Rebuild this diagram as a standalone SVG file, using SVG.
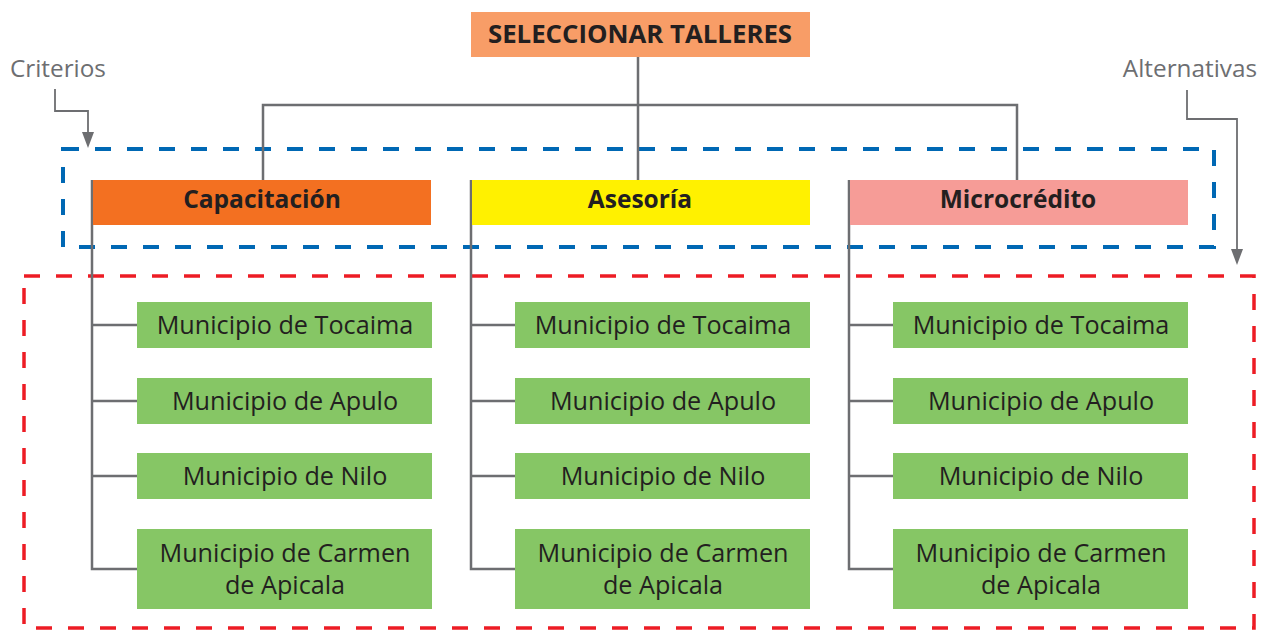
<svg xmlns="http://www.w3.org/2000/svg" width="1267" height="630" viewBox="0 0 1267 630">
<style>
.ln{fill:none;stroke:#6D6E71;stroke-width:2.5}
.lbl{font-family:"Open Sans","Noto Sans",sans-serif;font-size:24.3px;fill:#6D6E71}
.top{font-family:"Open Sans","Noto Sans",sans-serif;font-size:25.8px;font-weight:bold;fill:#231F20;text-anchor:middle}
.cat{font-family:"Open Sans","Noto Sans",sans-serif;font-size:24.5px;font-weight:bold;fill:#231F20;text-anchor:middle}
.mun{font-family:"Open Sans","Noto Sans",sans-serif;font-size:25.2px;fill:#231F20;text-anchor:middle}
.g{fill:#86C665}
</style>
<g id="frames">
<rect x="63" y="149" width="1151" height="98" fill="none" stroke="#0068B4" stroke-width="4" stroke-dasharray="16 16"/>
<rect x="24" y="276" width="1230" height="352" fill="none" stroke="#ED1C24" stroke-width="3.5" stroke-dasharray="16 16"/>
</g>
<g id="connectors">
<path class="ln" d="M638,57 V180 M263,180 V105 H1017 V180"/>
<path class="ln" d="M92,180 V569 H137 M92,325 H137 M92,401 H137 M92,476 H137"/>
<path class="ln" d="M471,180 V569 H515 M471,325 H515 M471,401 H515 M471,476 H515"/>
<path class="ln" d="M849,180 V569 H893 M849,325 H893 M849,401 H893 M849,476 H893"/>
<path d="M55,89 V111 H88 V132" fill="none" stroke="#6D6E71" stroke-width="1.8"/>
<path d="M82,132 L94,132 L88,148 Z" fill="#6D6E71"/>
<path d="M1187,90 V119 H1237 V249" fill="none" stroke="#6D6E71" stroke-width="1.8"/>
<path d="M1231,249 L1243,249 L1237,265 Z" fill="#6D6E71"/>
</g>
<g id="label-criterios"><text class="lbl" x="10" y="77">Criterios</text></g>
<g id="label-alternativas"><text class="lbl" x="1257" y="77" text-anchor="end">Alternativas</text></g>
<g id="root">
<rect x="471" y="12" width="339" height="45" fill="#F89D67"/>
<text class="top" x="640" y="43">SELECCIONAR TALLERES</text>
</g>
<g id="cat-capacitacion">
<rect x="93" y="180" width="338" height="45" fill="#F37021"/>
<text class="cat" x="262" y="208">Capacitación</text>
</g>
<g id="cat-asesoria">
<rect x="472" y="180" width="338" height="45" fill="#FFF100"/>
<text class="cat" x="640" y="208">Asesoría</text>
</g>
<g id="cat-microcredito">
<rect x="850" y="180" width="338" height="45" fill="#F69C97"/>
<text class="cat" x="1018" y="208">Microcrédito</text>
</g>
<g id="c1-tocaima"><rect class="g" x="137" y="302" width="295" height="46"/><text class="mun" x="285" y="334">Municipio de Tocaima</text></g>
<g id="c1-apulo"><rect class="g" x="137" y="378" width="295" height="46"/><text class="mun" x="285" y="410">Municipio de Apulo</text></g>
<g id="c1-nilo"><rect class="g" x="137" y="453" width="295" height="46"/><text class="mun" x="285" y="485">Municipio de Nilo</text></g>
<g id="c1-carmen"><rect class="g" x="137" y="529" width="295" height="80"/><text class="mun" x="285" y="562">Municipio de Carmen</text><text class="mun" x="285" y="594">de Apicala</text></g>
<g id="c2-tocaima"><rect class="g" x="515" y="302" width="295" height="46"/><text class="mun" x="663" y="334">Municipio de Tocaima</text></g>
<g id="c2-apulo"><rect class="g" x="515" y="378" width="295" height="46"/><text class="mun" x="663" y="410">Municipio de Apulo</text></g>
<g id="c2-nilo"><rect class="g" x="515" y="453" width="295" height="46"/><text class="mun" x="663" y="485">Municipio de Nilo</text></g>
<g id="c2-carmen"><rect class="g" x="515" y="529" width="295" height="80"/><text class="mun" x="663" y="562">Municipio de Carmen</text><text class="mun" x="663" y="594">de Apicala</text></g>
<g id="c3-tocaima"><rect class="g" x="893" y="302" width="295" height="46"/><text class="mun" x="1041" y="334">Municipio de Tocaima</text></g>
<g id="c3-apulo"><rect class="g" x="893" y="378" width="295" height="46"/><text class="mun" x="1041" y="410">Municipio de Apulo</text></g>
<g id="c3-nilo"><rect class="g" x="893" y="453" width="295" height="46"/><text class="mun" x="1041" y="485">Municipio de Nilo</text></g>
<g id="c3-carmen"><rect class="g" x="893" y="529" width="295" height="80"/><text class="mun" x="1041" y="562">Municipio de Carmen</text><text class="mun" x="1041" y="594">de Apicala</text></g>
</svg>
